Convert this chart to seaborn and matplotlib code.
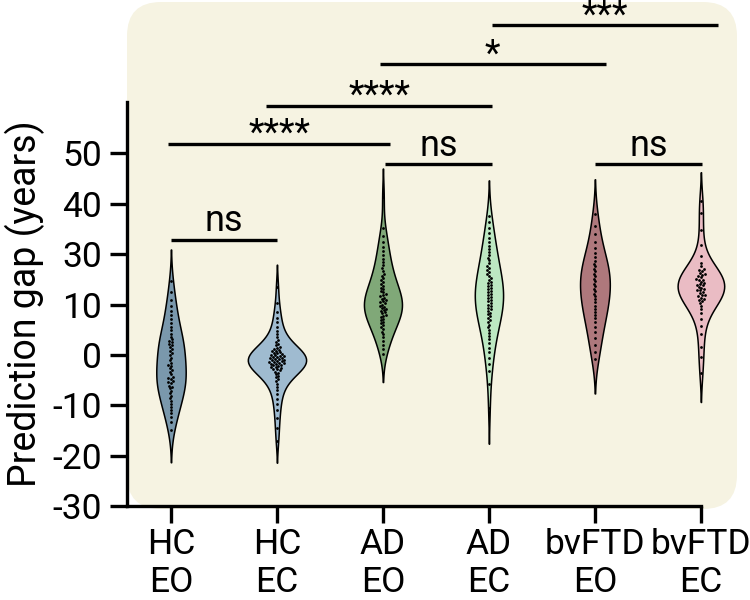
import numpy as np
import pandas as pd
import matplotlib.pyplot as plt
import seaborn as sns
from matplotlib.patches import FancyBboxPatch

# group labels and fill colours
groups = ["HC\nEO", "HC\nEC", "AD\nEO", "AD\nEC", "bvFTD\nEO", "bvFTD\nEC"]
colors = ["#7A98AC", "#9FBBD0", "#80A878", "#BDE8C2", "#AE787C", "#EABCC4"]

# prediction gap values (years)
hc_eo = [14.6, 12.5, 10.8, 9.8, 8.7, 7.9, 7.1, 6.3, 5.6, 4.9, 4.2, 3.6, 3.1,
         2.8, 2.5, 2.2, 1.9, 1.5, 1.1, 0.7, 0.3, -0.1, -0.6, -1.1, -1.6, -2.0,
         -2.2, -2.7, -3.0, -3.3, -3.8, -4.4, -4.6, -4.8, -5.2, -5.4, -5.6, -6.1,
         -6.4, -6.6, -7.1, -7.6, -8.1, -8.6, -9.1, -9.7, -10.3, -10.9, -11.6,
         -12.4, -13.4, -15.0]
hc_ec = [13.5, 10.2, 8.6, 7.4, 6.5, 5.6, 4.8, 4.1, 3.5, 3.0, 2.6, 2.2, 1.9, 1.6,
         1.4, 1.2, 1.0, 0.8, 0.7, 0.5, 0.4, 0.3, 0.1, 0.0, -0.1, -0.2, -0.3, -0.4,
         -0.5, -0.6, -0.7, -0.8, -0.9, -1.0, -1.1, -1.2, -1.3, -1.4, -1.5, -1.6,
         -1.7, -1.8, -1.9, -2.0, -2.1, -2.2, -2.4, -2.5, -2.6, -2.8, -2.9, -3.1,
         -3.3, -3.5, -3.8, -4.1, -4.4, -4.8, -5.2, -5.7, -6.3, -7.0, -7.8, -8.7,
         -9.8, -11.0, -12.6, -14.5, -17.0]
ad_eo = [31.4, 25.2, 23.6, 22.4, 21.5, 20.6, 19.9, 19.1, 18.4, 17.8, 17.2, 16.7,
         16.1, 15.7, 15.2, 14.8, 14.4, 14.0, 13.7, 13.3, 13.0, 12.7, 12.4, 12.1,
         11.8, 11.6, 11.3, 11.1, 10.8, 10.6, 10.4, 10.2, 10.0, 9.8, 9.6, 9.4, 9.2,
         9.0, 8.8, 8.5, 8.3, 8.0, 7.8, 7.5, 7.2, 6.9, 6.6, 6.3, 5.9, 5.5, 5.1, 4.6,
         4.1, 3.5, 2.8, 2.0, 1.1, 0.2]
ad_ec = [27.6, 26.4, 25.1, 24.1, 23.2, 22.4, 21.7, 21.0, 20.4, 19.8, 19.3, 18.8,
         18.2, 17.7, 17.3, 16.8, 16.4, 16.0, 15.6, 15.2, 14.9, 14.5, 14.2, 13.9,
         13.6, 13.3, 13.0, 12.7, 12.4, 12.1, 11.8, 11.5, 11.2, 10.9, 10.6, 10.3,
         10.0, 9.7, 9.4, 9.1, 8.8, 8.4, 8.1, 7.7, 7.3, 6.9, 6.5, 6.0, 5.5, 5.0, 4.4,
         3.8, 3.1, 2.3, 1.4, 0.5, -0.6, -1.9, -3.2, -5.8, -10.6]
ftd_eo = [28.0, 25.6, 23.9, 22.4, 21.2, 20.2, 19.4, 18.7, 18.1, 17.6, 17.1,
          16.6, 16.1, 15.6, 15.1, 14.6, 14.1, 13.6, 13.1, 12.6, 12.1, 11.6,
          11.0, 10.4, 9.8, 9.2, 8.6, 8.0, 7.3, 6.5, 5.6, 4.6, 3.4, 2.0, 0.6, -0.8]
ftd_ec = [30.5, 28.2, 24.8, 21.9, 19.6, 18.3, 17.6, 17.1, 16.9, 16.7, 16.3, 16.0,
          15.9, 15.7, 15.4, 15.1, 14.9, 14.8, 14.5, 14.3, 14.0, 13.9, 13.8, 13.5,
          13.3, 13.0, 12.9, 12.8, 12.5, 12.2, 11.9, 11.8, 11.6, 11.3, 11.0, 10.8,
          10.6, 10.2, 9.7, 9.1, 8.3, 7.2, 5.8, 4.1, 1.6, -0.4, -3.6]

# y ticks as printed on the original axis (note: no "20" label)
ytick_pos = [-30, -20, -10, 0, 10, 20, 30, 40]
ytick_labels = ["-30", "-20", "-10", "0", "10", "30", "40", "50"]

# significance brackets: (left, right, height, label)
brackets = [
    (0.0, 1.0, 22.9, "ns"),
    (2.02, 3.03, 37.8, "ns"),
    (4.0, 5.01, 37.8, "ns"),
    (-0.03, 2.07, 41.9, "****"),
    (0.90, 3.03, 49.5, "****"),
    (1.97, 4.10, 57.7, "*"),
    (3.03, 5.16, 65.4, "***"),
]

all_vals = [hc_eo, hc_ec, ad_eo, ad_ec, ftd_eo, ftd_ec]
df = pd.DataFrame({
    "group": np.repeat(groups, [len(v) for v in all_vals]),
    "value": np.concatenate(all_vals),
})

sns.set_style("ticks")
plt.rcParams["font.family"] = ["Roboto", "DejaVu Sans"]
plt.rcParams["text.color"] = "black"
plt.rcParams["axes.labelcolor"] = "black"
plt.rcParams["axes.edgecolor"] = "black"

fig = plt.figure(figsize=(7.5, 6), dpi=100)
fig.patch.set_facecolor("white")

# beige rounded panel behind the plot
bg = FancyBboxPatch((1.27, 0.91), 6.10, 5.07,
                    boxstyle="round,pad=0,rounding_size=0.34",
                    transform=fig.dpi_scale_trans, facecolor="#F6F3E2",
                    edgecolor="none", zorder=-10)
fig.patches.append(bg)

ax = fig.add_axes([127 / 750, 94 / 600, 611 / 750, 404 / 600])
ax.set_facecolor("none")

sns.violinplot(data=df, x="group", y="value", hue="group", order=groups,
               hue_order=groups, palette=colors, inner=None, linewidth=1.1,
               linecolor="black", density_norm="area", common_norm=True,
               width=0.55, saturation=1, legend=False, ax=ax)
sns.swarmplot(data=df, x="group", y="value", order=groups, color="black",
              size=2.0, ax=ax)

ax.set_xlim(-0.415, 5.35)
ax.set_ylim(-30, 50.2)
ax.set_yticks(ytick_pos)
ax.set_yticklabels(ytick_labels)
ax.set_xlabel("")
ax.set_ylabel("Prediction gap (years)", fontsize=27, labelpad=5)

for s in ["top", "right"]:
    ax.spines[s].set_visible(False)
for s in ["left", "bottom"]:
    ax.spines[s].set_linewidth(2.4)
ax.spines["bottom"].set_bounds(-0.415, 5.0)
ax.tick_params(axis="both", width=2.4, length=12, labelsize=25.5,
               color="black", labelcolor="black")
ax.tick_params(axis="x", pad=4)
ax.tick_params(axis="y", pad=6)

for x0, x1, y, lab in brackets:
    ax.plot([x0, x1], [y, y], color="black", lw=2.4, clip_on=False,
            solid_capstyle="butt")
    off = 6 if lab == "ns" else 0
    ax.annotate(lab, ((x0 + x1) / 2, y), xytext=(0, off),
                textcoords="offset points", ha="center", va="baseline",
                fontsize=26, color="black", annotation_clip=False)

fig.savefig("out.png", dpi=100)
